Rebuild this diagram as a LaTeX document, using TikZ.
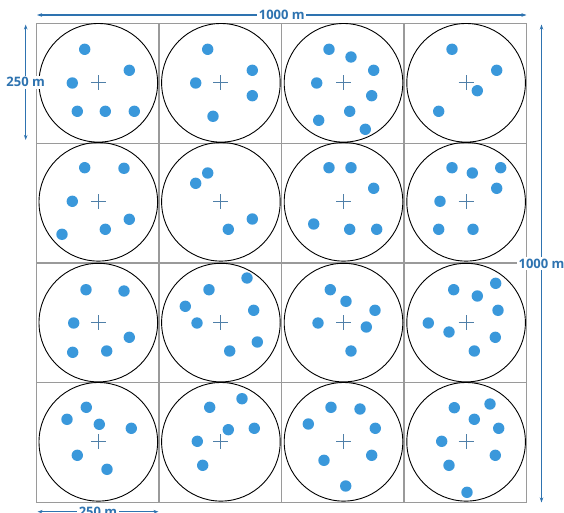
\documentclass[tikz,border=0pt]{standalone}
\usepackage{fontspec}
\setmainfont{Open Sans}
\usetikzlibrary{arrows.meta}
\definecolor{dotblue}{HTML}{3A98DB}
\definecolor{dimblue}{HTML}{2E73B0}
\definecolor{crossblue}{HTML}{4F7FA8}
\definecolor{gridgray}{HTML}{9A9A9A}
\tikzset{
    dimline/.style={dimblue,line width=1.2pt,{Stealth[length=5pt,width=3.5pt]}-{Stealth[length=5pt,width=3.5pt]}},
    dimlabel/.style={fill=white,text=dimblue,font=\bfseries\fontsize{13}{15}\selectfont,inner sep=1.5pt},
    plot/.style={line width=0.9pt},
    tree/.style={dotblue}
}
\begin{document}
\begin{tikzpicture}[x=1pt,y=-1pt]
    \useasboundingbox (0,0) rectangle (564,513);
    % grid of 250 m cells
    \foreach \i in {0,...,4} {
        \draw[gridgray,line width=1.3pt] (36.3+122.6*\i,23.5) -- (36.3+122.6*\i,502.5);
        \draw[gridgray,line width=1.3pt] (36.3,23.5+119.75*\i) -- (526.7,23.5+119.75*\i);
    }
    % circular plots with centre marks
    \foreach \cx in {98.3,220.9,343.5,466.1} {
        \foreach \cy in {82.8,201.8,322.6,441.8} {
            \draw[plot] (\cx,\cy) circle[radius=59.3];
            \draw[crossblue,line width=0.9pt] (\cx-7.5,\cy) -- (\cx+7.5,\cy) (\cx,\cy-7.5) -- (\cx,\cy+7.5);
        }
    }
    % trees
    \foreach \x/\y in {84.7/49.3, 129.3/70.3, 72.3/83, 77.3/111.3, 105.3/111.3, 134.3/111.3,
        207.7/49.3, 252.3/70.3, 195.7/83, 252.3/95.7, 213/116.3,
        329/49.3, 351/57, 373.7/70.3, 316.7/83, 371.7/95.7, 349.7/111.3, 318.7/120.3, 365.3/129.3,
        452/49.3, 496.7/70.3, 477.3/90.7, 438.7/111.3,
        84.7/167.7, 124/168.3, 72.3/201.3, 129.3/219.3, 105.3/229.3, 62/234.3,
        207.7/173, 195.7/183.3, 252.3/219, 228.3/229.3,
        329/167.7, 351/167.7, 373.7/188.3, 313.7/224, 349.7/229.3, 376.7/229.3,
        452/167.7, 472.3/173, 500.7/167.7, 496.7/188.3, 440/201.3, 438.7/229.3, 473/229.3,
        86/289.7, 124/291, 73.7/323, 129.3/337.3, 72.7/352.3, 106.7/351,
        247/278, 209/289.7, 185.3/306.3, 253.7/310.3, 197/323, 257.3/342, 229.7/351,
        330.3/289.7, 346/301.3, 375/310.3, 318/323, 366.3/327, 351/351,
        453.7/289.7, 495.7/283.3, 477.3/296, 498/310.3, 428.3/323, 449/332, 495.3/337.3, 474.3/351,
        86.3/407.3, 67/419.3, 99.3/424.3, 131.3/428.3, 77.3/455.3, 107/469.3,
        242/398.7, 209.7/407.3, 228.3/429.7, 254.3/428.3, 197.3/441.3, 202.7/465.3,
        331/407.3, 360/409, 308.3/424, 375.3/428.3, 324/460.3, 371.7/455.3, 345.7/486,
        454.3/407.7, 490/404, 474.3/419.3, 498.7/428.3, 441.7/441.3, 495.3/455.3, 449/465.3, 467/492.3}
        \fill[tree] (\x,\y) circle[radius=5.7];
    % dimensions
    \coordinate (topW) at (37,15);
    \coordinate (topE) at (526.5,15);
    \coordinate (leftN) at (25.7,24.5);
    \coordinate (leftS) at (25.7,140);
    \coordinate (rightN) at (541.5,24.5);
    \coordinate (rightS) at (541.5,502.5);
    \coordinate (botW) at (37.5,511.7);
    \coordinate (botE) at (158.5,511.7);
    \draw[dimline] (topW) -- node[dimlabel] (width) {1000 m} (topE);
    \draw[dimline] (leftN) -- node[dimlabel] (cellheight) {250 m} (leftS);
    \draw[dimline] (rightN) -- node[dimlabel] (height) {1000 m} (rightS);
    \draw[dimline] (botW) -- node[dimlabel] (cellwidth) {250 m} (botE);
\end{tikzpicture}
\end{document}
